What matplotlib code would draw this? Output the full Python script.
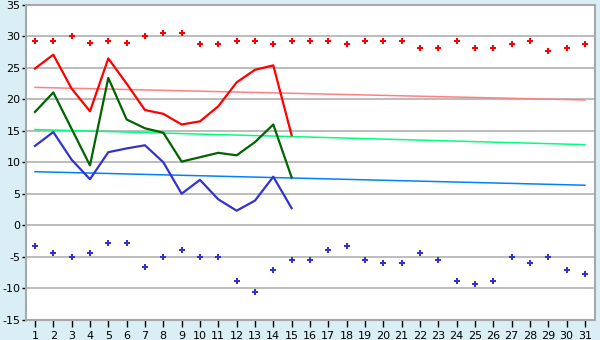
import numpy as np
import matplotlib
matplotlib.use('Agg')
import matplotlib.pyplot as plt

plt.rcParams.update({'font.family': 'DejaVu Sans', 'font.size': 8,
                     'axes.unicode_minus': False})

days = list(range(1, 32))
max_pts = [29.3, 29.3, 30.0, 28.9, 29.3, 28.9, 30.0, 30.6, 30.6, 28.8,
           28.8, 29.3, 29.3, 28.8, 29.3, 29.3, 29.3, 28.8, 29.3, 29.3,
           29.3, 28.2, 28.2, 29.3, 28.2, 28.2, 28.8, 29.3, 27.7, 28.2, 28.8]
min_pts = [-3.3, -4.4, -5.0, -4.4, -2.8, -2.8, -6.6, -5.0, -3.9, -5.0,
           -5.0, -8.9, -10.6, -7.1, -5.5, -5.5, -3.9, -3.3, -5.5, -6.0,
           -6.0, -4.4, -5.5, -8.9, -9.4, -8.9, -5.0, -6.0, -5.0, -7.1, -7.8]

line_days = list(range(1, 16))
red_line = [24.9, 27.1, 21.7, 18.1, 26.5, 22.5, 18.3, 17.7, 16.0, 16.5,
            18.9, 22.7, 24.7, 25.4, 14.3]
green_line = [18.0, 21.1, 15.3, 9.5, 23.4, 16.8, 15.4, 14.7, 10.1, 10.8,
              11.5, 11.1, 13.2, 16.0, 7.6]
blue_line = [12.6, 14.8, 10.4, 7.3, 11.6, 12.2, 12.7, 10.0, 5.0, 7.2,
             4.1, 2.3, 3.9, 7.7, 2.7]

trend_days = [1, 31]
red_trend = [21.9, 19.9]
green_trend = [15.2, 12.8]
blue_trend = [8.5, 6.35]

fig = plt.figure(figsize=(6, 3.4), dpi=100, facecolor='#d9eff5')
ax = fig.add_axes([26 / 600, 1 - 319.5 / 340, 569 / 600, 314.5 / 340])
ax.set_facecolor('white')

ax.set_ylim(-15, 35)
ax.set_xlim(0.51, 31.55)
ax.set_yticks(range(-15, 36, 5))
ax.set_xticks(days)
ax.yaxis.grid(True, color='#b0b0b0', lw=1.2)
ax.set_axisbelow(True)

for s in ax.spines.values():
    s.set_color('#a8a8a8')
    s.set_linewidth(1.5)
ax.tick_params(axis='y', length=3, width=1, color='black', pad=1, labelsize=8)
ax.tick_params(axis='x', length=5, width=1, color='black', pad=3, labelsize=8)

ax.plot(trend_days, red_trend, color='#ff8080', lw=1.1)
ax.plot(trend_days, green_trend, color='#00ff80', lw=1.1)
ax.plot(trend_days, blue_trend, color='#0080ff', lw=1.1)

ax.plot(line_days, red_line, color='#ff0000', lw=1.6)
ax.plot(line_days, green_line, color='#006400', lw=1.6)
ax.plot(line_days, blue_line, color='#3333cc', lw=1.6)

ax.plot(days, max_pts, 'P', color='#ff0000', ms=5, mew=0, ls='none')
ax.plot(days, min_pts, 'P', color='#3333cc', ms=5, mew=0, ls='none')

fig.savefig('out.png', dpi=100, facecolor=fig.get_facecolor())
